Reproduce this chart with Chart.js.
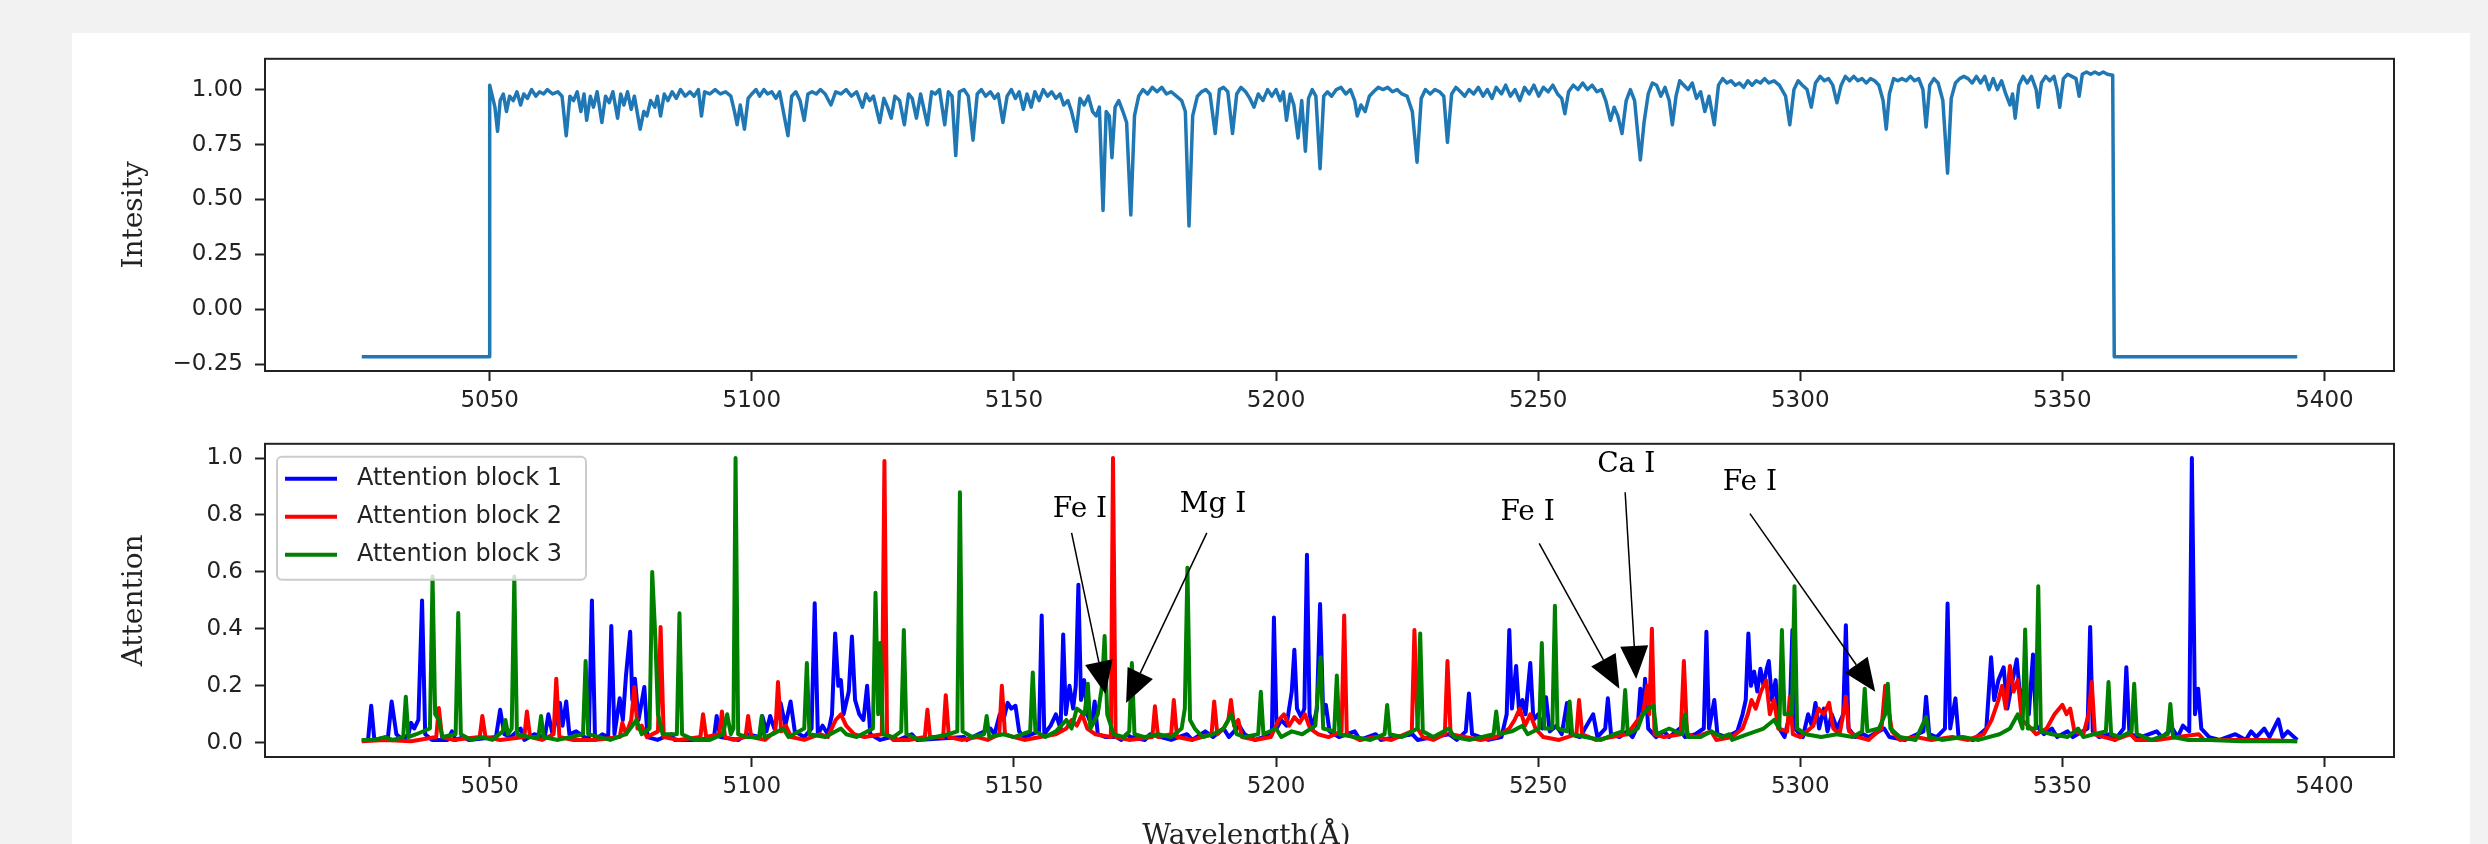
<!DOCTYPE html>
<html lang="en">
  <head>
    <meta charset="UTF-8" />
    <title>Spectrum and attention</title>
    <style>
      html,
      body {
        margin: 0;
        padding: 0;
        overflow: hidden;
      }
      body {
        background-color: #f2f2f2;
        width: 2488px;
        height: 844px;
        position: relative;
      }
      .card {
        position: absolute;
        left: 72px;
        top: 33px;
        width: 2398px;
        height: 830px;
        background: #fff;
      }
      canvas {
        position: absolute;
        left: 72px;
      }
      #specChart {
        top: 33px;
        width: 2398px;
        height: 385px;
      }
      #attnChart {
        top: 418px;
        width: 2398px;
        height: 436px;
      }
    </style>
  </head>
  <body>
    <div class="card"></div>
    <canvas id="specChart" width="2398" height="385"></canvas>
    <canvas id="attnChart" width="2398" height="436"></canvas>

    <script src="https://cdn.jsdelivr.net/npm/chart.js"></script>
    <script>
      const xTicks = [5050, 5100, 5150, 5200, 5250, 5300, 5350, 5400];
      const yTicksTop = [-0.25, 0, 0.25, 0.5, 0.75, 1.0];
      const yTicksBottom = [0, 0.2, 0.4, 0.6, 0.8, 1.0];

      // normalised spectrum [wavelength, intensity]
      const intensity = [
        [5025.6,-0.215],[5049.9,-0.215],[5050.0,1.02],[5050.4,0.98],[5051.0,0.92],[5051.5,0.81],[5052.0,0.95],[5052.6,0.98],
        [5053.2,0.9],[5053.8,0.97],[5054.5,0.95],[5055.2,0.99],[5055.9,0.93],[5056.5,0.98],[5057.2,0.96],[5058.0,1.0],
        [5058.8,0.97],[5059.5,0.99],[5060.3,0.98],[5061.0,1.0],[5062.0,0.98],[5063.0,0.99],[5063.8,0.97],[5064.6,0.79],
        [5065.3,0.97],[5066.0,0.95],[5066.7,0.99],[5067.4,0.9],[5068.0,0.98],[5068.5,0.86],[5069.2,0.97],[5069.8,0.92],
        [5070.5,0.99],[5071.4,0.85],[5072.1,0.97],[5072.8,0.94],[5073.5,0.99],[5074.4,0.87],[5075.0,0.98],[5075.6,0.93],
        [5076.3,0.99],[5077.0,0.91],[5077.6,0.97],[5078.7,0.82],[5079.4,0.9],[5080.0,0.88],[5080.7,0.95],[5081.5,0.92],
        [5082.0,0.97],[5082.6,0.88],[5083.3,0.98],[5084.0,0.95],[5084.8,0.99],[5085.6,0.96],[5086.4,1.0],[5087.3,0.97],
        [5088.2,0.99],[5089.0,0.97],[5089.8,1.0],[5090.4,0.88],[5091.0,0.99],[5092.0,0.98],[5093.0,1.0],[5094.0,0.98],
        [5095.0,0.99],[5096.0,0.97],[5096.7,0.9],[5097.2,0.84],[5097.8,0.93],[5098.6,0.82],[5099.3,0.96],[5100.0,0.98],
        [5100.8,1.0],[5101.5,0.97],[5102.3,1.0],[5103.0,0.98],[5103.8,0.99],[5104.6,0.96],[5105.3,0.99],[5106.9,0.79],
        [5107.6,0.97],[5108.4,0.99],[5109.2,0.95],[5110.0,0.86],[5110.7,0.98],[5111.5,0.99],[5112.3,0.98],[5113.1,1.0],
        [5114.0,0.98],[5115.1,0.93],[5116.0,0.99],[5117.0,0.98],[5118.0,1.0],[5119.0,0.97],[5120.0,0.99],[5121.1,0.92],
        [5121.8,0.98],[5122.5,0.95],[5123.2,0.97],[5124.4,0.85],[5125.2,0.96],[5125.9,0.92],[5126.6,0.87],[5127.3,0.97],
        [5128.2,0.95],[5129.1,0.84],[5129.9,0.98],[5130.6,0.96],[5131.4,0.87],[5132.2,0.98],[5133.5,0.84],[5134.3,0.99],
        [5135.0,0.98],[5135.8,1.0],[5136.8,0.84],[5137.5,0.99],[5138.2,0.97],[5138.9,0.70],[5139.6,0.99],[5140.5,1.0],
        [5141.3,0.97],[5142.2,0.77],[5143.0,0.98],[5143.8,1.0],[5144.6,0.97],[5145.5,0.99],[5146.3,0.96],[5147.0,0.98],
        [5147.9,0.85],[5148.7,0.97],[5149.5,1.0],[5150.3,0.96],[5151.0,0.99],[5151.8,0.91],[5152.5,0.98],[5153.3,0.92],
        [5154.0,0.99],[5154.8,0.95],[5155.6,1.0],[5156.4,0.97],[5157.2,0.99],[5158.0,0.96],[5158.8,0.98],[5159.5,0.93],
        [5160.3,0.95],[5161.0,0.9],[5161.9,0.81],[5162.6,0.96],[5163.4,0.93],[5164.2,0.97],[5165.0,0.9],[5165.7,0.88],
        [5166.3,0.92],[5167.0,0.45],[5167.6,0.9],[5168.2,0.88],[5168.7,0.69],[5169.3,0.92],[5170.0,0.95],[5170.8,0.9],
        [5171.5,0.85],[5172.3,0.43],[5173.0,0.88],[5173.8,0.97],[5174.6,1.0],[5175.5,0.98],[5176.4,1.01],[5177.3,0.99],
        [5178.2,1.01],[5179.1,0.98],[5180.0,0.99],[5181.0,0.97],[5182.0,0.95],[5182.7,0.9],[5183.4,0.38],[5184.1,0.88],
        [5185.0,0.97],[5185.8,0.99],[5186.6,1.0],[5187.4,0.98],[5188.4,0.80],[5189.2,1.0],[5190.0,1.01],[5190.8,0.99],
        [5191.7,0.80],[5192.5,0.98],[5193.3,1.01],[5194.2,0.99],[5195.0,0.96],[5195.8,0.92],[5196.6,0.98],[5197.5,0.95],
        [5198.4,1.0],[5199.2,0.97],[5200.0,1.0],[5200.8,0.95],[5201.4,0.99],[5202.0,0.86],[5202.7,0.98],[5203.4,0.93],
        [5204.2,0.78],[5204.9,0.95],[5205.6,0.72],[5206.2,0.96],[5206.9,1.0],[5207.6,0.97],[5208.4,0.64],[5209.1,0.97],
        [5209.8,0.99],[5210.6,0.97],[5211.5,1.0],[5212.4,1.01],[5213.3,0.98],[5214.2,1.0],[5215.0,0.95],[5215.5,0.88],
        [5216.2,0.93],[5217.0,0.9],[5217.8,0.97],[5218.6,0.99],[5219.5,1.01],[5220.4,1.0],[5221.3,1.01],[5222.2,0.99],
        [5223.1,1.0],[5224.0,0.98],[5225.0,0.97],[5226.0,0.9],[5226.9,0.67],[5227.7,0.96],[5228.5,1.0],[5229.4,0.98],
        [5230.3,1.0],[5231.2,0.99],[5232.0,0.97],[5232.7,0.76],[5233.5,0.98],[5234.3,1.01],[5235.2,0.99],[5236.0,0.97],
        [5236.8,1.0],[5237.7,0.98],[5238.6,1.01],[5239.5,0.97],[5240.3,1.0],[5241.2,0.96],[5242.0,1.01],[5243.0,0.98],
        [5243.8,1.02],[5244.7,0.97],[5245.6,1.0],[5246.5,0.95],[5247.4,1.01],[5248.3,0.98],[5249.2,1.02],[5250.1,0.97],
        [5251.0,1.01],[5251.9,0.99],[5252.8,1.02],[5253.7,0.98],[5254.5,0.96],[5255.1,0.89],[5255.8,0.99],[5256.7,1.02],
        [5257.6,1.0],[5258.5,1.03],[5259.4,1.0],[5260.3,1.02],[5261.2,0.99],[5262.1,1.0],[5262.9,0.95],[5263.8,0.86],
        [5264.5,0.92],[5265.2,0.88],[5266.0,0.80],[5266.8,0.95],[5267.6,1.0],[5268.4,0.95],[5269.0,0.8],[5269.5,0.68],
        [5270.2,0.85],[5271.0,0.98],[5271.8,1.03],[5272.6,1.02],[5273.4,0.97],[5274.2,1.01],[5275.0,0.95],[5275.6,0.84],
        [5276.3,0.97],[5277.0,1.04],[5277.8,1.02],[5278.6,1.0],[5279.4,1.03],[5280.2,0.96],[5281.0,0.99],[5281.8,0.90],
        [5282.6,0.97],[5283.6,0.84],[5284.4,1.02],[5285.2,1.05],[5286.0,1.03],[5286.8,1.04],[5287.6,1.02],[5288.4,1.03],
        [5289.2,1.01],[5290.0,1.04],[5290.8,1.02],[5291.6,1.04],[5292.4,1.03],[5293.2,1.05],[5294.0,1.03],[5295.0,1.04],
        [5296.0,1.02],[5297.2,0.97],[5298.0,0.84],[5298.8,1.0],[5299.6,1.04],[5300.4,1.02],[5301.3,1.0],[5302.1,0.92],
        [5302.9,1.03],[5303.8,1.06],[5304.6,1.04],[5305.4,1.05],[5306.2,1.02],[5307.0,0.94],[5307.8,1.02],[5308.6,1.06],
        [5309.4,1.04],[5310.2,1.06],[5311.0,1.04],[5311.8,1.05],[5312.6,1.03],[5313.4,1.05],[5314.2,1.04],[5315.0,1.02],
        [5315.8,0.95],[5316.4,0.82],[5317.0,0.98],[5317.8,1.05],[5318.6,1.04],[5319.4,1.05],[5320.2,1.04],[5321.0,1.06],
        [5321.8,1.04],[5322.6,1.05],[5323.4,1.0],[5324.0,0.83],[5324.7,1.02],[5325.5,1.05],[5326.3,1.03],[5327.2,0.95],
        [5328.1,0.62],[5328.8,0.96],[5329.6,1.03],[5330.4,1.05],[5331.2,1.06],[5332.0,1.05],[5332.8,1.03],[5333.6,1.06],
        [5334.4,1.03],[5335.2,1.06],[5336.0,1.0],[5336.8,1.05],[5337.6,1.0],[5338.4,1.04],[5339.2,0.98],[5340.0,0.93],
        [5340.5,0.98],[5341.0,0.87],[5341.7,1.02],[5342.5,1.06],[5343.3,1.03],[5344.1,1.06],[5345.0,1.0],[5345.4,0.92],
        [5346.0,1.03],[5346.8,1.06],[5347.6,1.04],[5348.4,1.06],[5349.0,1.0],[5349.5,0.92],[5350.2,1.05],[5351.0,1.07],
        [5351.8,1.06],[5352.6,1.05],[5353.2,0.97],[5353.8,1.07],[5354.6,1.08],[5355.4,1.07],[5356.2,1.08],[5357.0,1.07],
        [5357.8,1.08],[5358.6,1.07],[5359.6,1.065],[5359.9,-0.215],[5394.8,-0.215]
      ];

      // attention weights [wavelength, attention]
      const attn1 = [
        [5025.6,0.01],[5026.8,0.01],[5027.4,0.13],[5028.0,0.01],[5030.6,0.02],[5031.3,0.145],[5032.2,0.03],[5033.5,0.01],
        [5034.5,0.03],[5035.0,0.07],[5035.6,0.05],[5036.4,0.08],[5037.1,0.50],[5037.7,0.03],[5039.0,0.01],[5042.0,0.01],
        [5042.8,0.04],[5043.5,0.01],[5045.0,0.02],[5046.0,0.01],[5051.2,0.02],[5052.0,0.116],[5052.8,0.03],[5054.0,0.02],
        [5055.9,0.05],[5056.6,0.01],[5058.5,0.03],[5060.5,0.02],[5061.2,0.10],[5062.0,0.03],[5063.4,0.14],[5063.9,0.06],
        [5064.6,0.145],[5065.2,0.03],[5066.5,0.04],[5068.9,0.01],[5069.5,0.50],[5070.1,0.01],[5071.5,0.03],[5072.6,0.02],
        [5073.2,0.41],[5073.8,0.03],[5074.8,0.156],[5075.4,0.08],[5076.0,0.236],[5076.8,0.39],[5077.2,0.15],[5077.7,0.225],
        [5078.4,0.08],[5079.5,0.196],[5080.1,0.02],[5082.0,0.01],[5084.6,0.03],[5085.3,0.01],[5090.0,0.01],[5092.8,0.02],
        [5093.3,0.094],[5094.0,0.02],[5097.5,0.01],[5099.0,0.03],[5101.5,0.02],[5102.0,0.094],[5102.8,0.04],[5103.5,0.094],
        [5104.3,0.05],[5105.5,0.139],[5106.4,0.06],[5107.4,0.145],[5108.2,0.04],[5110.0,0.02],[5111.4,0.05],[5112.0,0.49],
        [5112.6,0.03],[5113.5,0.06],[5114.5,0.03],[5115.3,0.1],[5115.9,0.384],[5116.5,0.2],[5117.0,0.22],[5117.5,0.1],
        [5118.5,0.18],[5119.1,0.373],[5119.7,0.15],[5120.5,0.1],[5121.3,0.08],[5122.0,0.20],[5122.6,0.03],[5124.5,0.01],
        [5126.5,0.02],[5128.0,0.01],[5130.5,0.03],[5131.5,0.01],[5140.5,0.02],[5141.0,0.01],[5145.5,0.05],[5146.3,0.03],
        [5147.3,0.1],[5148.0,0.08],[5148.8,0.14],[5149.5,0.12],[5150.3,0.13],[5151.0,0.04],[5152.0,0.02],[5154.8,0.04],
        [5155.3,0.447],[5155.8,0.03],[5157.0,0.06],[5158.0,0.1],[5158.9,0.05],[5159.4,0.38],[5159.9,0.1],[5160.6,0.2],
        [5161.3,0.12],[5161.8,0.2],[5162.3,0.555],[5162.8,0.15],[5163.4,0.22],[5164.0,0.1],[5164.8,0.06],[5165.4,0.145],
        [5166.0,0.03],[5167.5,0.02],[5169.5,0.02],[5170.5,0.01],[5171.5,0.03],[5172.3,0.02],[5175.0,0.01],[5176.0,0.03],
        [5178.0,0.02],[5180.0,0.01],[5183.0,0.03],[5184.0,0.01],[5186.5,0.04],[5188.0,0.02],[5190.0,0.05],[5191.0,0.02],
        [5193.0,0.06],[5194.0,0.03],[5196.0,0.01],[5199.2,0.03],[5199.6,0.44],[5200.1,0.05],[5201.0,0.08],[5202.0,0.06],
        [5203.0,0.18],[5203.5,0.327],[5204.0,0.12],[5204.8,0.09],[5205.4,0.12],[5205.9,0.66],[5206.4,0.1],[5207.0,0.05],
        [5207.8,0.12],[5208.4,0.487],[5209.0,0.1],[5209.5,0.133],[5210.2,0.04],[5212.0,0.02],[5215.0,0.04],[5216.0,0.01],
        [5219.0,0.03],[5220.0,0.01],[5223.0,0.02],[5226.0,0.03],[5227.0,0.01],[5230.0,0.02],[5233.0,0.03],[5234.5,0.01],
        [5236.2,0.04],[5236.8,0.173],[5237.4,0.03],[5239.0,0.02],[5240.5,0.01],[5243.0,0.02],[5244.0,0.1],[5244.5,0.396],
        [5245.0,0.12],[5245.8,0.27],[5246.4,0.1],[5247.0,0.15],[5247.6,0.1],[5248.5,0.28],[5249.1,0.08],[5250.0,0.1],
        [5250.8,0.05],[5251.5,0.16],[5252.2,0.04],[5253.5,0.06],[5254.5,0.03],[5255.5,0.14],[5256.2,0.03],[5258.0,0.02],
        [5260.5,0.1],[5261.3,0.02],[5262.8,0.05],[5263.3,0.156],[5263.9,0.03],[5265.5,0.02],[5267.0,0.04],[5268.0,0.02],
        [5269.0,0.06],[5269.5,0.19],[5270.0,0.1],[5270.4,0.225],[5271.0,0.05],[5272.5,0.02],[5274.0,0.04],[5275.0,0.02],
        [5277.0,0.05],[5278.0,0.02],[5280.0,0.03],[5281.6,0.05],[5282.1,0.39],[5282.6,0.05],[5283.6,0.15],[5284.2,0.03],
        [5286.0,0.02],[5288.0,0.04],[5289.0,0.1],[5289.6,0.15],[5290.1,0.384],[5290.6,0.2],[5291.2,0.25],[5291.8,0.18],
        [5292.4,0.26],[5293.0,0.2],[5293.6,0.26],[5294.0,0.287],[5294.6,0.15],[5295.3,0.22],[5296.0,0.05],[5297.0,0.02],
        [5298.0,0.1],[5298.5,0.396],[5299.0,0.05],[5300.5,0.02],[5301.5,0.1],[5302.2,0.06],[5302.9,0.14],[5303.6,0.05],
        [5304.5,0.12],[5305.2,0.04],[5306.0,0.1],[5307.0,0.05],[5308.2,0.1],[5308.7,0.413],[5309.2,0.05],[5310.5,0.02],
        [5312.0,0.03],[5313.0,0.02],[5316.0,0.05],[5317.0,0.02],[5320.0,0.01],[5323.5,0.04],[5324.0,0.162],[5324.6,0.03],
        [5326.0,0.02],[5327.6,0.05],[5328.1,0.489],[5328.6,0.05],[5329.6,0.156],[5330.2,0.02],[5333.0,0.01],[5335.5,0.05],
        [5336.4,0.30],[5337.0,0.15],[5337.8,0.22],[5338.8,0.265],[5339.5,0.12],[5340.3,0.2],[5341.3,0.293],[5342.0,0.15],
        [5342.8,0.2],[5343.6,0.1],[5344.4,0.31],[5345.0,0.06],[5346.5,0.03],[5348.0,0.05],[5349.0,0.02],[5351.0,0.04],
        [5352.0,0.02],[5354.8,0.05],[5355.3,0.407],[5355.8,0.04],[5357.0,0.02],[5359.0,0.03],[5360.0,0.01],[5361.7,0.05],
        [5362.2,0.265],[5362.8,0.03],[5365.0,0.02],[5368.0,0.04],[5369.0,0.02],[5371.0,0.05],[5372.0,0.02],[5373.0,0.06],
        [5374.2,0.04],[5374.7,1.0],[5375.3,0.1],[5375.9,0.19],[5376.5,0.05],[5378.0,0.02],[5380.0,0.01],[5383.0,0.03],
        [5385.0,0.01],[5386.0,0.04],[5387.0,0.02],[5388.5,0.05],[5389.5,0.02],[5391.2,0.082],[5392.0,0.02],[5393.0,0.04],
        [5394.8,0.01]
      ];
      const attn2 = [
        [5025.6,0.005],[5030.0,0.01],[5035.0,0.005],[5039.8,0.02],[5040.3,0.122],[5040.9,0.02],[5043.0,0.01],[5048.1,0.02],
        [5048.6,0.094],[5049.2,0.02],[5052.0,0.01],[5056.6,0.02],[5057.1,0.11],[5057.7,0.02],[5060.0,0.01],[5062.2,0.03],
        [5062.7,0.225],[5063.3,0.02],[5066.0,0.01],[5070.0,0.01],[5074.8,0.02],[5075.3,0.07],[5076.0,0.03],[5077.0,0.08],
        [5077.6,0.196],[5078.2,0.05],[5079.0,0.06],[5080.0,0.02],[5082.1,0.04],[5082.6,0.407],[5083.2,0.02],[5086.0,0.01],
        [5090.2,0.02],[5090.7,0.10],[5091.3,0.02],[5093.8,0.03],[5094.3,0.11],[5094.9,0.02],[5096.5,0.01],[5098.8,0.02],
        [5099.3,0.094],[5099.9,0.02],[5102.5,0.01],[5104.5,0.04],[5105.0,0.213],[5105.6,0.04],[5106.5,0.06],[5107.5,0.02],
        [5110.0,0.01],[5113.0,0.03],[5114.5,0.02],[5116.0,0.08],[5117.0,0.1],[5118.0,0.06],[5119.5,0.03],[5121.5,0.02],
        [5124.8,0.03],[5125.3,0.99],[5125.8,0.03],[5127.0,0.01],[5130.0,0.01],[5133.0,0.02],[5133.5,0.116],[5134.0,0.02],
        [5136.5,0.02],[5137.0,0.167],[5137.6,0.02],[5140.0,0.01],[5143.0,0.02],[5145.0,0.01],[5147.2,0.03],[5147.7,0.20],
        [5148.3,0.03],[5150.0,0.02],[5152.0,0.01],[5155.0,0.02],[5158.0,0.03],[5160.0,0.05],[5161.0,0.08],[5162.0,0.06],
        [5163.0,0.1],[5164.0,0.05],[5165.5,0.03],[5168.5,0.02],[5168.9,1.0],[5169.4,0.02],[5172.0,0.01],[5176.4,0.02],
        [5176.9,0.128],[5177.5,0.02],[5180.0,0.03],[5180.5,0.15],[5181.1,0.02],[5184.0,0.01],[5187.7,0.03],[5188.2,0.145],
        [5188.8,0.03],[5190.0,0.05],[5190.9,0.08],[5191.4,0.15],[5192.0,0.06],[5192.8,0.08],[5193.5,0.02],[5196.0,0.01],
        [5199.0,0.02],[5200.5,0.08],[5201.5,0.1],[5202.5,0.06],[5203.5,0.09],[5204.5,0.07],[5205.5,0.1],[5206.5,0.05],
        [5208.0,0.03],[5210.0,0.02],[5212.5,0.04],[5213.0,0.447],[5213.5,0.03],[5216.0,0.01],[5219.0,0.02],[5222.0,0.01],
        [5225.9,0.04],[5226.4,0.396],[5227.0,0.05],[5228.0,0.02],[5230.0,0.01],[5232.2,0.03],[5232.7,0.287],[5233.3,0.03],
        [5236.0,0.02],[5239.0,0.01],[5242.0,0.02],[5244.5,0.05],[5245.5,0.08],[5246.5,0.12],[5247.5,0.06],[5248.5,0.1],
        [5249.5,0.05],[5251.0,0.02],[5254.0,0.01],[5257.3,0.03],[5257.8,0.15],[5258.4,0.03],[5261.0,0.01],[5264.0,0.02],
        [5267.0,0.03],[5269.0,0.08],[5270.0,0.1],[5270.8,0.2],[5271.2,0.1],[5271.7,0.40],[5272.2,0.03],[5274.0,0.02],
        [5277.2,0.03],[5277.8,0.287],[5278.4,0.03],[5280.0,0.02],[5283.0,0.04],[5284.0,0.01],[5287.0,0.02],[5289.0,0.05],
        [5290.0,0.1],[5290.7,0.15],[5291.5,0.12],[5292.5,0.18],[5293.5,0.219],[5294.2,0.1],[5295.0,0.15],[5295.8,0.05],
        [5297.5,0.04],[5298.0,0.162],[5298.6,0.03],[5300.0,0.02],[5302.5,0.06],[5303.5,0.12],[5304.5,0.1],[5305.5,0.14],
        [5306.3,0.05],[5307.5,0.03],[5308.2,0.1],[5308.7,0.162],[5309.3,0.04],[5311.0,0.02],[5313.0,0.01],[5315.5,0.05],
        [5316.2,0.20],[5316.8,0.12],[5317.5,0.04],[5319.0,0.01],[5322.0,0.02],[5325.0,0.01],[5329.0,0.02],[5332.0,0.01],
        [5335.0,0.03],[5336.5,0.08],[5337.8,0.15],[5338.5,0.2],[5339.2,0.12],[5340.0,0.27],[5340.7,0.18],[5341.5,0.22],
        [5342.3,0.08],[5343.5,0.06],[5345.0,0.03],[5347.0,0.05],[5348.5,0.1],[5350.0,0.133],[5350.8,0.1],[5351.5,0.12],
        [5352.3,0.04],[5354.0,0.03],[5355.0,0.1],[5355.6,0.213],[5356.2,0.03],[5358.0,0.02],[5360.0,0.01],[5363.0,0.03],
        [5364.0,0.01],[5368.0,0.01],[5372.0,0.02],[5376.0,0.03],[5377.0,0.01],[5382.0,0.01],[5388.0,0.01],[5394.8,0.005]
      ];
      const attn3 = [
        [5025.6,0.01],[5028.0,0.01],[5030.0,0.02],[5031.5,0.01],[5033.5,0.02],[5034.0,0.162],[5034.5,0.02],[5036.0,0.03],
        [5038.6,0.05],[5039.1,0.584],[5039.6,0.1],[5040.3,0.08],[5041.0,0.02],[5043.5,0.03],[5044.0,0.456],[5044.5,0.03],
        [5046.5,0.01],[5048.5,0.02],[5050.5,0.01],[5052.5,0.04],[5053.0,0.08],[5053.5,0.03],[5054.2,0.05],[5054.7,0.584],
        [5055.2,0.03],[5057.5,0.02],[5059.3,0.02],[5059.8,0.094],[5060.3,0.02],[5063.0,0.01],[5065.5,0.02],[5067.8,0.03],
        [5068.3,0.287],[5068.8,0.03],[5071.0,0.02],[5073.0,0.01],[5076.0,0.03],[5078.0,0.08],[5079.0,0.03],[5080.5,0.05],
        [5081.0,0.60],[5081.6,0.37],[5082.1,0.1],[5083.0,0.03],[5085.7,0.03],[5086.2,0.455],[5086.7,0.03],[5089.0,0.01],
        [5092.0,0.01],[5094.5,0.03],[5095.3,0.1],[5096.0,0.03],[5096.5,0.05],[5096.9,1.0],[5097.4,0.03],[5099.0,0.02],
        [5101.4,0.02],[5101.9,0.094],[5102.4,0.02],[5104.0,0.03],[5106.0,0.05],[5107.0,0.02],[5110.0,0.05],[5110.5,0.28],
        [5111.0,0.03],[5114.0,0.02],[5117.0,0.05],[5118.0,0.03],[5120.0,0.02],[5123.1,0.05],[5123.6,0.527],[5124.1,0.1],
        [5124.5,0.35],[5125.0,0.03],[5127.0,0.02],[5128.5,0.04],[5129.0,0.396],[5129.5,0.03],[5132.0,0.01],[5135.0,0.02],
        [5137.5,0.03],[5139.2,0.04],[5139.7,0.88],[5140.2,0.04],[5142.0,0.02],[5144.3,0.03],[5144.8,0.094],[5145.3,0.02],
        [5148.0,0.03],[5150.0,0.02],[5153.1,0.04],[5153.6,0.247],[5154.1,0.04],[5156.0,0.02],[5158.0,0.04],[5160.0,0.08],
        [5161.0,0.05],[5162.0,0.12],[5163.5,0.1],[5164.1,0.207],[5164.6,0.05],[5166.0,0.1],[5166.8,0.2],[5167.3,0.375],
        [5167.8,0.1],[5169.0,0.03],[5171.0,0.02],[5172.0,0.04],[5172.5,0.28],[5173.0,0.03],[5175.0,0.02],[5177.5,0.03],
        [5180.0,0.02],[5182.0,0.05],[5182.6,0.12],[5183.1,0.615],[5183.6,0.08],[5184.5,0.05],[5186.0,0.02],[5188.0,0.03],
        [5190.0,0.05],[5191.5,0.1],[5192.5,0.03],[5194.0,0.02],[5196.6,0.03],[5197.1,0.179],[5197.6,0.03],[5200.0,0.05],
        [5201.0,0.02],[5203.0,0.04],[5205.0,0.03],[5207.5,0.06],[5208.5,0.3],[5209.0,0.05],[5211.1,0.04],[5211.6,0.236],
        [5212.1,0.03],[5215.0,0.02],[5218.0,0.01],[5220.7,0.03],[5221.2,0.133],[5221.7,0.03],[5224.0,0.02],[5227.0,0.05],
        [5227.5,0.384],[5228.0,0.04],[5230.0,0.02],[5233.0,0.05],[5234.0,0.02],[5237.0,0.01],[5241.5,0.03],[5242.0,0.11],
        [5242.5,0.03],[5245.0,0.04],[5247.0,0.06],[5248.0,0.03],[5250.2,0.05],[5250.7,0.35],[5251.2,0.05],[5252.7,0.05],
        [5253.2,0.481],[5253.7,0.05],[5255.5,0.04],[5256.0,0.145],[5256.5,0.03],[5259.0,0.02],[5262.0,0.01],[5264.5,0.03],
        [5266.1,0.04],[5266.6,0.185],[5267.1,0.03],[5269.0,0.05],[5270.0,0.1],[5271.0,0.12],[5272.0,0.13],[5272.6,0.03],
        [5275.0,0.05],[5277.5,0.03],[5278.0,0.1],[5278.6,0.02],[5281.0,0.02],[5283.0,0.04],[5285.0,0.02],[5286.5,0.03],
        [5287.0,0.01],[5290.0,0.03],[5293.0,0.05],[5295.0,0.08],[5296.0,0.05],[5296.5,0.396],[5297.0,0.1],[5298.4,0.1],
        [5298.9,0.55],[5299.4,0.05],[5301.0,0.03],[5304.0,0.02],[5307.0,0.03],[5310.0,0.02],[5311.8,0.04],[5312.3,0.19],
        [5312.8,0.04],[5315.0,0.05],[5316.2,0.1],[5316.7,0.207],[5317.2,0.05],[5319.0,0.02],[5322.0,0.01],[5324.0,0.09],
        [5324.6,0.02],[5327.0,0.01],[5331.0,0.02],[5334.0,0.01],[5338.0,0.03],[5340.0,0.05],[5341.5,0.1],[5342.4,0.05],
        [5342.9,0.398],[5343.4,0.05],[5344.9,0.05],[5345.4,0.55],[5345.9,0.04],[5348.0,0.03],[5351.0,0.02],[5353.0,0.05],
        [5354.0,0.02],[5356.0,0.03],[5358.3,0.04],[5358.8,0.213],[5359.3,0.03],[5361.0,0.02],[5363.2,0.04],[5363.7,0.207],
        [5364.2,0.03],[5367.0,0.01],[5370.1,0.03],[5370.6,0.136],[5371.1,0.02],[5374.0,0.01],[5378.0,0.01],[5384.0,0.005],
        [5390.0,0.005],[5394.8,0.005]
      ];

      const seriesLabels = ["Attention block 1", "Attention block 2", "Attention block 3"];
      const seriesColors = ["#0000ff", "#ff0000", "#008000"];

      // line annotations: label point, arrow tail, arrow tip (data coords)
      const lineNotes = [
        { text: "Fe I", x: 5162.6, y: 0.82, fromX: 5161.0, fromY: 0.737, toX: 5167.5, toY: 0.17 },
        { text: "Mg I", x: 5188.0, y: 0.836, fromX: 5186.8, fromY: 0.737, toX: 5171.4, toY: 0.14 },
        { text: "Fe I", x: 5248.0, y: 0.809, fromX: 5250.2, fromY: 0.7, toX: 5265.5, toY: 0.19 },
        { text: "Ca I", x: 5266.8, y: 0.975, fromX: 5266.6, fromY: 0.88, toX: 5268.7, toY: 0.224 },
        { text: "Fe I", x: 5290.4, y: 0.915, fromX: 5290.4, fromY: 0.805, toX: 5314.3, toY: 0.179 },
      ];

      Chart.defaults.font.family = "'DejaVu Sans'";
      Chart.defaults.color = "#222";

      const toPts = (arr) => arr.map(([x, y]) => ({ x: x, y: y }));

      // x limits with matplotlib-like 5% margins
      const xLo = Math.min(...intensity.map((p) => p[0]));
      const xHi = Math.max(...intensity.map((p) => p[0]));
      const xPad = (xHi - xLo) * 0.05;

      const frame = {
        id: "frame",
        afterDatasetsDraw(chart) {
          const { ctx, chartArea: a } = chart;
          ctx.save();
          ctx.strokeStyle = "#222";
          ctx.lineWidth = 2;
          ctx.strokeRect(a.left, a.top, a.right - a.left, a.bottom - a.top);
          ctx.restore();
        },
      };

      const arrows = {
        id: "arrows",
        afterDatasetsDraw(chart) {
          const { ctx } = chart;
          const sx = chart.scales.x;
          const sy = chart.scales.y;
          ctx.save();
          ctx.fillStyle = "#000";
          ctx.strokeStyle = "#000";
          ctx.font = "28px 'DejaVu Serif'";
          ctx.textAlign = "center";
          ctx.textBaseline = "middle";
          lineNotes.forEach((n) => {
            ctx.fillText(n.text, sx.getPixelForValue(n.x), sy.getPixelForValue(n.y));
            const x0 = sx.getPixelForValue(n.fromX);
            const y0 = sy.getPixelForValue(n.fromY);
            const x1 = sx.getPixelForValue(n.toX);
            const y1 = sy.getPixelForValue(n.toY);
            const ang = Math.atan2(y1 - y0, x1 - x0);
            const hl = 33;
            const hw = 14;
            const bx = x1 - hl * Math.cos(ang);
            const by = y1 - hl * Math.sin(ang);
            ctx.lineWidth = 1.5;
            ctx.beginPath();
            ctx.moveTo(x0, y0);
            ctx.lineTo(bx, by);
            ctx.stroke();
            ctx.beginPath();
            ctx.moveTo(x1, y1);
            ctx.lineTo(bx + hw * Math.sin(ang), by - hw * Math.cos(ang));
            ctx.lineTo(bx - hw * Math.sin(ang), by + hw * Math.cos(ang));
            ctx.closePath();
            ctx.fill();
          });
          ctx.restore();
        },
      };

      const boxLegend = {
        id: "boxLegend",
        afterDraw(chart) {
          const { ctx, chartArea: a } = chart;
          const left = a.left + 12;
          const top = a.top + 13;
          ctx.save();
          ctx.fillStyle = "rgba(255,255,255,0.8)";
          ctx.strokeStyle = "#cccccc";
          ctx.lineWidth = 2;
          ctx.beginPath();
          ctx.roundRect(left, top, 309, 123, 5);
          ctx.fill();
          ctx.stroke();
          ctx.font = "24px 'DejaVu Sans'";
          ctx.textBaseline = "middle";
          ctx.textAlign = "left";
          chart.data.datasets.forEach((ds, i) => {
            const cy = top + 22 + i * 38;
            ctx.strokeStyle = ds.borderColor;
            ctx.lineWidth = 4;
            ctx.beginPath();
            ctx.moveTo(left + 8, cy);
            ctx.lineTo(left + 60, cy);
            ctx.stroke();
            ctx.fillStyle = "#222";
            ctx.fillText(ds.label, left + 80, cy);
          });
          ctx.restore();
        },
      };

      const xLabel = {
        id: "xLabel",
        afterDraw(chart) {
          const { ctx, chartArea: a } = chart;
          ctx.save();
          ctx.font = "28px 'DejaVu Serif'";
          ctx.fillStyle = "#222";
          ctx.textAlign = "center";
          ctx.textBaseline = "middle";
          ctx.fillText("Wavelength(Å)", a.left + 0.461 * (a.right - a.left), a.bottom + 80);
          ctx.restore();
        },
      };

      function makeScales(yMin, yMax, yTicks, yFmt, yTitle, xAxisHeight) {
        return {
          x: {
            type: "linear",
            min: xLo - xPad,
            max: xHi + xPad,
            afterBuildTicks: (s) => {
              s.ticks = xTicks.map((v) => ({ value: v }));
            },
            afterFit: (s) => {
              s.height = xAxisHeight;
            },
            ticks: {
              autoSkip: false,
              maxRotation: 0,
              padding: 6,
              font: { size: 23 },
              callback: (v) => String(v),
            },
            grid: {
              drawOnChartArea: false,
              drawTicks: true,
              tickLength: 10,
              tickWidth: 2,
              tickColor: "#222",
            },
            border: { display: false },
          },
          y: {
            min: yMin,
            max: yMax,
            afterBuildTicks: (s) => {
              s.ticks = yTicks.map((v) => ({ value: v }));
            },
            afterFit: (s) => {
              s.width = 193;
            },
            ticks: {
              padding: 12,
              font: { size: 23 },
              callback: yFmt,
            },
            grid: {
              drawOnChartArea: false,
              drawTicks: true,
              tickLength: 10,
              tickWidth: 2,
              tickColor: "#222",
            },
            border: { display: false },
            title: {
              display: true,
              text: yTitle,
              color: "#222",
              font: { family: "'DejaVu Serif'", size: 28 },
              padding: { top: 46, bottom: 0 },
            },
          },
        };
      }

      const common = {
        responsive: false,
        animation: false,
        devicePixelRatio: 1,
        events: [],
        plugins: { legend: { display: false }, tooltip: { enabled: false } },
      };

      new Chart(document.getElementById("specChart"), {
        type: "line",
        data: {
          datasets: [
            {
              label: "Intesity",
              data: toPts(intensity),
              borderColor: "#1f77b4",
              borderWidth: 3.5,
              pointRadius: 0,
              borderJoinStyle: "round",
              tension: 0,
              fill: false,
            },
          ],
        },
        options: {
          ...common,
          layout: { padding: { top: 17, right: 76, left: 0, bottom: 0 } },
          scales: makeScales(-0.28, 1.14, yTicksTop, (v) => v.toFixed(2).replace("-", "\u2212"), "Intesity", 47),
        },
        plugins: [frame],
      });

      const attnSets = [attn1, attn2, attn3].map((arr, i) => ({
        label: seriesLabels[i],
        data: toPts(arr),
        borderColor: seriesColors[i],
        borderWidth: 4,
        pointRadius: 0,
        borderJoinStyle: "round",
        tension: 0,
        fill: false,
        order: 3 - i, // green drawn last, on top
      }));

      new Chart(document.getElementById("attnChart"), {
        type: "line",
        data: { datasets: attnSets },
        options: {
          ...common,
          layout: { padding: { top: 17, right: 76, left: 0, bottom: 0 } },
          scales: makeScales(-0.05, 1.05, yTicksBottom, (v) => v.toFixed(1), "Attention", 97),
        },
        plugins: [frame, arrows, boxLegend, xLabel],
      });
    </script>
  </body>
</html>
